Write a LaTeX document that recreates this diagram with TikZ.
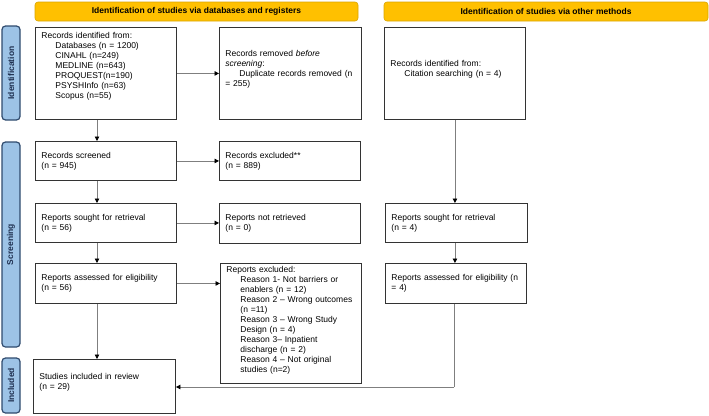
\documentclass[tikz,border=0pt]{standalone}
\usepackage{fontspec}
\setmainfont{Liberation Sans}
\usetikzlibrary{arrows.meta}
\definecolor{hdrfill}{HTML}{FFC000}
\definecolor{hdrdraw}{HTML}{D9A400}
\definecolor{sidefill}{HTML}{9DC3E6}
\definecolor{sidedraw}{HTML}{2F4B6E}
\definecolor{sidetext}{HTML}{1F3050}
\definecolor{boxdraw}{HTML}{333333}
\definecolor{arrline}{HTML}{7F7F7F}
\newcommand{\ind}{\hspace*{14pt}}
\newcommand{\lift}[1]{\rule[-#1]{0pt}{1pt}}
\begin{document}
\begin{tikzpicture}[x=1pt,y=-1pt,
  txt/.style={font=\fontsize{8.5}{10}\selectfont},
  hdr/.style={draw=hdrdraw,fill=hdrfill,line width=0.6pt,rounded corners=3pt,
    minimum height=19pt,inner sep=0pt,font=\fontsize{8.5}{10}\selectfont\bfseries},
  side/.style={draw=sidedraw,fill=sidefill,line width=1.2pt,rounded corners=3.5pt,
    rotate=90,minimum height=18pt,inner sep=0pt,text=sidetext,
    font=\fontsize{8.5}{10}\selectfont\bfseries},
  box/.style={draw=boxdraw,line width=0.9pt,anchor=north west,align=left,
    inner xsep=6pt,inner ysep=0pt,txt},
  arr/.style={draw=arrline,line width=0.8pt,-{Triangle[length=4.5pt,width=4.5pt,color=black]}},
  ln/.style={draw=arrline,line width=0.8pt}]
\useasboundingbox (0,0) rectangle (709,415);
% headers
\node[hdr,minimum width=323pt] (h1) at (196.5,11.5) {Identification of studies via databases and registers};
\node[hdr,minimum width=324pt] (h2) at (546,11.5) {Identification of studies via other methods};
% side bars
\node[side,minimum width=94pt] (s1) at (11,73) {Identification};
\node[side,minimum width=205pt] (s2) at (11,244.5) {Screening};
\node[side,minimum width=55pt] (s3) at (11,385.5) {Included};
% boxes
\node[box,minimum width=140pt,minimum height=92pt,text width=129pt] (id) at (35,27)
 {Records identified from:\\\ind Databases (n = 1200)\\\ind CINAHL (n=249)\\\ind MEDLINE (n=643)\\\ind PROQUEST(n=190)\\\ind PSYSHInfo (n=63)\\\ind Scopus (n=55)\lift{16pt}};
\node[box,minimum width=140pt,minimum height=92pt,text width=130pt] (rem) at (219,27)
 {Records removed \emph{before}\\\emph{screening}:\\\ind Duplicate records removed (n\\= 255)\lift{11pt}};
\node[box,minimum width=140pt,minimum height=92pt,text width=129pt] (oid) at (384,27)
 {Records identified from:\\\ind Citation searching (n = 4)\lift{10pt}};
\node[box,minimum width=140pt,minimum height=39pt,text width=129pt] (scr) at (35,141)
 {Records screened\\(n = 945)};
\node[box,minimum width=140pt,minimum height=39pt,text width=129pt] (exc) at (219,141)
 {Records excluded**\\(n = 889)};
\node[box,minimum width=140pt,minimum height=39pt,text width=129pt] (sou) at (35,203)
 {Reports sought for retrieval\\(n = 56)};
\node[box,minimum width=140pt,minimum height=40pt,text width=129pt] (nret) at (219,203)
 {Reports not retrieved\\(n = 0)};
\node[box,minimum width=141pt,minimum height=39pt,text width=130pt] (osou) at (385,203)
 {Reports sought for retrieval\\(n = 4)};
\node[box,minimum width=140pt,minimum height=40pt,text width=129pt] (ass) at (35,263)
 {Reports assessed for eligibility\\(n = 56)};
\node[box,minimum width=139pt,minimum height=120pt,text width=129pt] (rexc) at (220,263)
 {Reports excluded:\\\ind Reason 1- Not barriers or\\\ind enablers (n = 12)\\\ind Reason 2 -- Wrong outcomes\\\ind (n =11)\\\ind Reason 3 -- Wrong Study\\\ind Design (n = 4)\\\ind Reason 3-- Inpatient\\\ind discharge (n = 2)\\\ind Reason 4 -- Not original\\\ind studies (n=2)\lift{8pt}};
\node[box,minimum width=140pt,minimum height=40pt,text width=129pt] (oass) at (385,263)
 {Reports assessed for eligibility (n\\= 4)};
\node[box,minimum width=141pt,minimum height=54pt,text width=130pt] (inc) at (33,359)
 {Studies included in review\\(n = 29)\lift{10pt}};
% spine coordinates
\coordinate (ls) at (97,0);
\coordinate (turn) at (454,387);
% arrows
\draw[arr] (id.east) -- (rem.west);
\draw[arr] (scr.east) -- (exc.west);
\draw[arr] (sou.east) -- (sou.east -| nret.west);
\draw[arr] (ass.east) -- (ass.east -| rexc.west);
\draw[arr] (id.south -| ls) -- (scr.north -| ls);
\draw[arr] (scr.south -| ls) -- (sou.north -| ls);
\draw[arr] (sou.south -| ls) -- (ass.north -| ls);
\draw[arr] (ass.south -| ls) -- (inc.north -| ls);
\draw[arr] (oid.south) -- (oid.south |- osou.north);
\draw[arr] (osou.south -| oid.south) -- (oass.north -| oid.south);
\draw[ln] (oass.south -| turn) -- (turn);
\draw[arr] (turn) -- (turn -| inc.east);
\end{tikzpicture}
\end{document}
